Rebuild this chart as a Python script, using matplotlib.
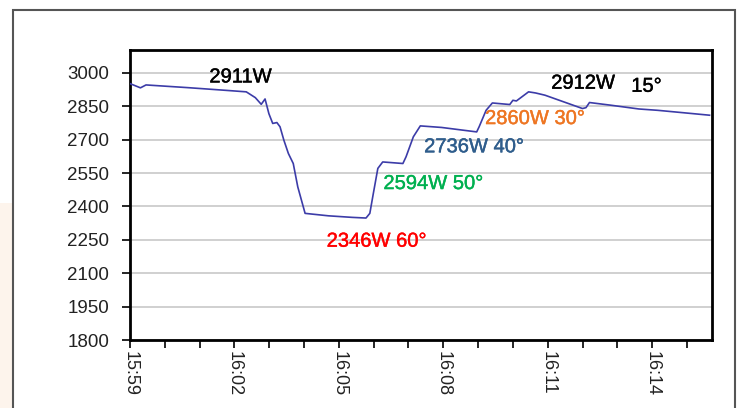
import matplotlib
matplotlib.use("Agg")
import matplotlib.pyplot as plt
from matplotlib.patches import Rectangle
import matplotlib.patheffects as pe

# minutes after 15:59
minutes = [0.0, 0.3, 0.46, 1.65, 2.73, 3.34, 3.6, 3.77, 3.88, 3.99, 4.1, 4.22, 4.31,
           4.42, 4.55, 4.69, 4.82, 5.03, 5.7, 6.38, 6.78, 6.89, 6.99, 7.12, 7.26,
           7.84, 7.93, 8.14, 8.34, 8.95, 9.96, 10.03, 10.23, 10.41, 10.91, 11.0,
           11.1, 11.45, 11.65, 11.92, 12.46, 13.0, 13.1, 13.2, 13.81, 14.62,
           15.16, 15.84, 16.65]
power = [2952, 2933, 2946, 2934, 2922, 2915, 2889, 2859, 2883, 2817, 2773, 2777, 2758,
         2698, 2638, 2593, 2488, 2369, 2358, 2351, 2348, 2369, 2458, 2571, 2600,
         2593, 2623, 2713, 2762, 2755, 2735, 2758, 2832, 2865, 2858, 2877,
         2874, 2915, 2910, 2900, 2870, 2840, 2844, 2867, 2855, 2838,
         2832, 2822, 2810]

tick_minutes = [0, 3, 6, 9, 12, 15]
tick_labels = ["15:59", "16:02", "16:05", "16:08", "16:11", "16:14"]
y_ticks = [1800, 1950, 2100, 2250, 2400, 2550, 2700, 2850, 3000]

ann_texts = ["2911W", "2912W", "15°", "2860W 30°", "2736W 40°", "2594W 50°", "2346W 60°"]
ann_x = [2.28, 12.1, 14.4, 10.2, 8.45, 7.28, 5.65]
ann_y = [2982, 2954, 2940, 2795, 2668, 2503, 2244]
ann_colors = ["#000000", "#000000", "#000000", "#EE7623", "#2F5D8C", "#00B050", "#FF0000"]

plt.rcParams['font.family'] = ['Liberation Sans', 'DejaVu Sans']

fig = plt.figure(figsize=(7.37, 4.08), dpi=100)
fig.patch.set_facecolor("white")

# faint peach patch at left edge
fig.patches.append(Rectangle((0, 0), 12/737, 205/408, transform=fig.transFigure,
                             facecolor="#FDF4EC", edgecolor="none", zorder=0))
# outer frame
fig.patches.append(Rectangle((13/737, -0.05), (735-13)/737, (408-10)/408 + 0.05,
                             transform=fig.transFigure, facecolor="none",
                             edgecolor="#555555", linewidth=1.5, zorder=1))

ax = fig.add_axes([130/737, 68/408, (712-130)/737, (340-50)/408])
ax.plot(minutes, power, color="#3C3CA8", linewidth=1.2, zorder=3)

ax.set_xlim(0, 16.72)
ax.set_ylim(1800, 3103)
ax.set_yticks(y_ticks)
ax.set_xticks(tick_minutes)
ax.set_xticklabels(tick_labels, rotation=-90, va="top", ha="center")
ax.set_xticks(range(0, 17), minor=True)
ax.tick_params(axis="x", which="both", direction="out", length=6, width=1.2,
               labelsize=13, pad=2, color="black", labelcolor="#222222")
ax.tick_params(axis="y", direction="out", length=6, width=1.2, labelsize=13.5, pad=9,
               labelcolor="#222222")
ax.grid(axis="y", color="#C8C8C8", linewidth=1.2, zorder=1)
ax.set_axisbelow(True)
for s in ax.spines.values():
    s.set_linewidth(2)
    s.set_color("black")

for t, x, y, c in zip(ann_texts, ann_x, ann_y, ann_colors):
    ax.text(x, y, t, color=c, fontsize=14.5, ha="left", va="center", zorder=4,
            path_effects=[pe.withStroke(linewidth=0.3, foreground=c)])

fig.savefig("out.png", dpi=100)
